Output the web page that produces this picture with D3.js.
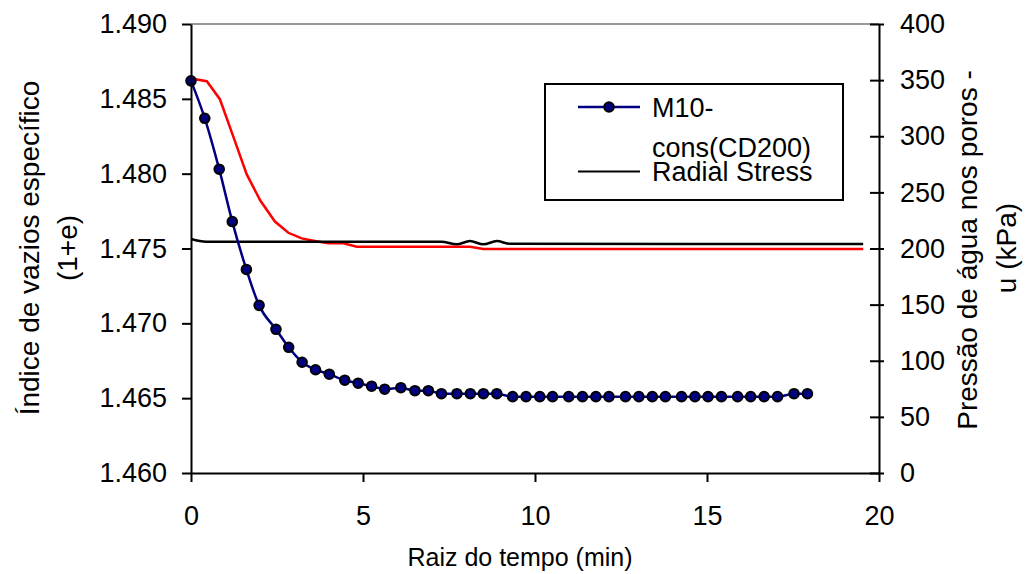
<!DOCTYPE html>
<html>
<head>
<meta charset="utf-8">
<script src="https://cdn.jsdelivr.net/npm/d3@7"></script>
<style>
  html, body { margin: 0; padding: 0; background: #fff; }
  svg { display: block; font-family: "Liberation Sans", Arial, sans-serif; }
</style>
</head>
<body>
<svg id="chart" width="1025" height="574"></svg>
<script>
// ---- Data ----
const blueTime = [0, 0.40, 0.82, 1.20, 1.61, 1.98, 2.47, 2.84, 3.23, 3.62,
  4.02, 4.47, 4.86, 5.25, 5.63, 6.10, 6.51, 6.90, 7.28, 7.73,
  8.12, 8.50, 8.89, 9.35, 9.74, 10.14, 10.51, 10.98, 11.38, 11.77,
  12.15, 12.63, 13.02, 13.41, 13.79, 14.26, 14.65, 15.03, 15.42, 15.89,
  16.27, 16.66, 17.05, 17.53, 17.92];
const blueVoid = [1.4862, 1.4837, 1.4803, 1.4768, 1.4736, 1.4712, 1.4696, 1.4684, 1.4674, 1.4669,
  1.4666, 1.4662, 1.4660, 1.4658, 1.4656, 1.4657, 1.4655, 1.4655, 1.4653, 1.4653,
  1.4653, 1.4653, 1.4653, 1.4651, 1.4651, 1.4651, 1.4651, 1.4651, 1.4651, 1.4651,
  1.4651, 1.4651, 1.4651, 1.4651, 1.4651, 1.4651, 1.4651, 1.4651, 1.4651, 1.4651,
  1.4651, 1.4651, 1.4651, 1.4653, 1.4653];

const redTime = [0, 0.46, 0.84, 1.23, 1.62, 2.01, 2.44, 2.83, 3.22, 3.60, 3.99, 4.43, 4.82, 8.11, 8.50, 19.54];
const redPressure = [351.5, 349.0, 333.0, 299.6, 266.0, 243.0, 224.0, 214.0, 209.0, 206.7, 204.6, 204.6, 201.6, 201.6, 199.5, 199.5];

const blackTime = [0, 0.44, 7.28, 7.72, 8.11, 8.50, 8.89, 9.27, 19.54];
const blackStress = [208.5, 206.1, 206.1, 203.7, 206.6, 203.7, 206.6, 204.2, 204.0];

const xTicks = [0, 5, 10, 15, 20];
const yLeftTicks = [1.460, 1.465, 1.470, 1.475, 1.480, 1.485, 1.490];
const yRightTicks = [0, 50, 100, 150, 200, 250, 300, 350, 400];

const seriesNames = ["M10-", "cons(CD200)", "Radial Stress"];
const xTitle = "Raiz do tempo (min)";
const yLeftTitle = ["Índice de vazios específico", "(1+e)"];
const yRightTitle = ["Pressão de água nos poros -", "u (kPa)"];

// ---- Layout ----
const L = 191, R = 879, T = 24, B = 473;
const svg = d3.select("#chart");

const x = d3.scaleLinear().domain([0, 20]).range([L, R]);
const yL = d3.scaleLinear().domain([1.460, 1.490]).range([B, T]);
const yR = d3.scaleLinear().domain([0, 400]).range([B, T]);

// top border (gray)
svg.append("line").attr("x1", L).attr("x2", R).attr("y1", T).attr("y2", T)
  .attr("stroke", "#999").attr("stroke-width", 2);

// ---- Series ----
const blueData = blueTime.map((t, i) => [t, blueVoid[i]]);
const redData = redTime.map((t, i) => [t, redPressure[i]]);
const blackData = blackTime.map((t, i) => [t, blackStress[i]]);

svg.append("path").datum(redData)
  .attr("fill", "none").attr("stroke", "#ff0000").attr("stroke-width", 2.5)
  .attr("d", d3.line().x(d => x(d[0])).y(d => yR(d[1])));

svg.append("path").datum(blackData)
  .attr("fill", "none").attr("stroke", "#000").attr("stroke-width", 2.5)
  .attr("d", d3.line().curve(d3.curveMonotoneX).x(d => x(d[0])).y(d => yR(d[1])));

svg.append("path").datum(blueData)
  .attr("fill", "none").attr("stroke", "#000080").attr("stroke-width", 2.5)
  .attr("d", d3.line().curve(d3.curveMonotoneX).x(d => x(d[0])).y(d => yL(d[1])));

svg.append("g").selectAll("circle").data(blueData).join("circle")
  .attr("cx", d => x(d[0])).attr("cy", d => yL(d[1])).attr("r", 4.8)
  .attr("fill", "#000080").attr("stroke", "#000").attr("stroke-width", 2);

// ---- Axes ----
function styleAxis(g) {
  g.selectAll(".domain").attr("stroke", "#000").attr("stroke-width", 2);
  g.selectAll(".tick line").attr("stroke", "#000").attr("stroke-width", 2);
  g.selectAll(".tick text").attr("fill", "#000").style("font-family", "'Liberation Sans', Arial, sans-serif")
    .style("font-size", "27px");
}

const gL = svg.append("g").attr("transform", `translate(${L},0)`)
  .call(d3.axisLeft(yL).tickValues(yLeftTicks).tickFormat(d3.format(".3f"))
    .tickSize(9).tickSizeOuter(0).tickPadding(15));
styleAxis(gL);

const gB = svg.append("g").attr("transform", `translate(0,${B})`)
  .call(d3.axisBottom(x).tickValues(xTicks).tickFormat(d3.format("d"))
    .tickSize(9).tickSizeOuter(0).tickPadding(24));
styleAxis(gB);

const gR = svg.append("g").attr("transform", `translate(${R},0)`)
  .call(d3.axisRight(yR).tickValues(yRightTicks).tickFormat(d3.format("d"))
    .tickSize(5).tickSizeOuter(0).tickPadding(16));
styleAxis(gR);
gR.selectAll(".tick line").attr("x1", -9);

// ---- Titles ----
svg.append("text").attr("x", 520).attr("y", 566).attr("text-anchor", "middle")
  .style("font-size", "25px").text(xTitle);

svg.append("text").attr("transform", "translate(39,248) rotate(-90)")
  .attr("text-anchor", "middle").style("font-size", "28px").text(yLeftTitle[0]);
svg.append("text").attr("transform", "translate(77,248) rotate(-90)")
  .attr("text-anchor", "middle").style("font-size", "28px").text(yLeftTitle[1]);

svg.append("text").attr("transform", "translate(977,250) rotate(-90)")
  .attr("text-anchor", "middle").style("font-size", "28px").text(yRightTitle[0]);
svg.append("text").attr("transform", "translate(1016,248) rotate(-90)")
  .attr("text-anchor", "middle").style("font-size", "28px").text(yRightTitle[1]);

// ---- Legend ----
const lg = svg.append("g");
lg.append("rect").attr("x", 545).attr("y", 84).attr("width", 298).attr("height", 116)
  .attr("fill", "#fff").attr("stroke", "#000").attr("stroke-width", 2);
lg.append("line").attr("x1", 578).attr("x2", 640).attr("y1", 107).attr("y2", 107)
  .attr("stroke", "#000080").attr("stroke-width", 2.5);
lg.append("circle").attr("cx", 609).attr("cy", 107).attr("r", 4.8)
  .attr("fill", "#000080").attr("stroke", "#000").attr("stroke-width", 2);
lg.append("text").attr("x", 652).attr("y", 117).style("font-size", "27px").text(seriesNames[0]);
lg.append("text").attr("x", 652).attr("y", 157).style("font-size", "27px").text(seriesNames[1]);
lg.append("line").attr("x1", 578).attr("x2", 640).attr("y1", 171.5).attr("y2", 171.5)
  .attr("stroke", "#000").attr("stroke-width", 2);
lg.append("text").attr("x", 652).attr("y", 181).style("font-size", "27px").text(seriesNames[2]);
</script>
</body>
</html>
